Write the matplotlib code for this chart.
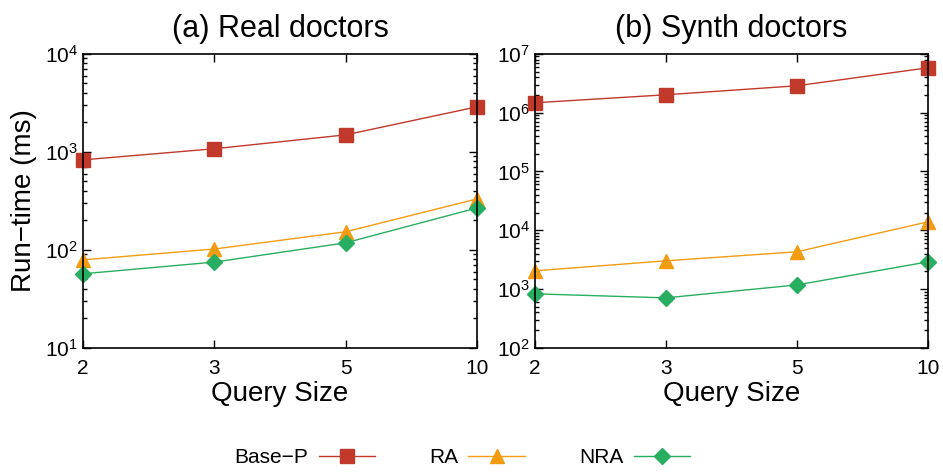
import matplotlib
matplotlib.use("Agg")
import matplotlib.pyplot as plt
from matplotlib.ticker import LogLocator, NullFormatter

plt.rcParams['font.family'] = ['Liberation Sans', 'DejaVu Sans']

query_sizes = ['2', '3', '5', '10']

real_base_p = [828, 1075, 1490, 2880]
real_ra = [79, 102, 153, 331]
real_nra = [57, 75, 118, 268]

synth_base_p = [1.47e6, 2.01e6, 2.86e6, 5.78e6]
synth_ra = [2040, 3020, 4300, 13900]
synth_nra = [830, 708, 1175, 2900]

red = '#c0392b'
orange = '#f39c12'
green = '#27ae60'

fig = plt.figure(figsize=(9.43, 4.72), dpi=100)
ax1 = fig.add_axes([0.088, 0.263, 0.418, 0.623])
ax2 = fig.add_axes([0.567, 0.263, 0.417, 0.623])


def draw(ax, base, ra, nra, ylim, title):
    xs = range(len(query_sizes))
    ax.plot(xs, base, color=red, lw=1, marker='s', ms=10, clip_on=False, label='Base\u2212P')
    ax.plot(xs, ra, color=orange, lw=1, marker='^', ms=10, clip_on=False, label='RA')
    ax.plot(xs, nra, color=green, lw=1, marker='D', ms=8, clip_on=False, label='NRA')
    ax.set_yscale('log')
    ax.set_ylim(*ylim)
    ax.set_xlim(0, 3)
    ax.set_xticks(list(xs))
    ax.set_xticklabels(query_sizes)
    ax.yaxis.set_major_locator(LogLocator(base=10, numticks=10))
    ax.yaxis.set_minor_locator(LogLocator(base=10, subs=range(2, 10), numticks=10))
    ax.yaxis.set_minor_formatter(NullFormatter())
    ax.tick_params(which='both', direction='in', top=True, right=True, labelsize=15)
    ax.tick_params(which='major', length=6, width=1)
    ax.tick_params(which='minor', length=3, width=1)
    ax.tick_params(axis='x', pad=8)
    for s in ax.spines.values():
        s.set_linewidth(1.2)
    ax.set_xlabel('Query Size', fontsize=20, labelpad=2)
    ax.set_title(title, fontsize=22, pad=12)


draw(ax1, real_base_p, real_ra, real_nra, (10, 1e4), '(a) Real doctors')
draw(ax2, synth_base_p, synth_ra, synth_nra, (100, 1e7), '(b) Synth doctors')
ax1.set_ylabel('Run\u2212time (ms)', fontsize=20, labelpad=6)

handles, labels = ax1.get_legend_handles_labels()
fig.legend(handles, labels, loc='center', bbox_to_anchor=(0.49, 0.03), ncol=3,
           frameon=False, markerfirst=False, fontsize=15, handlelength=2.7,
           columnspacing=2.6, handletextpad=0.5)

fig.savefig('out.png', dpi=100)
